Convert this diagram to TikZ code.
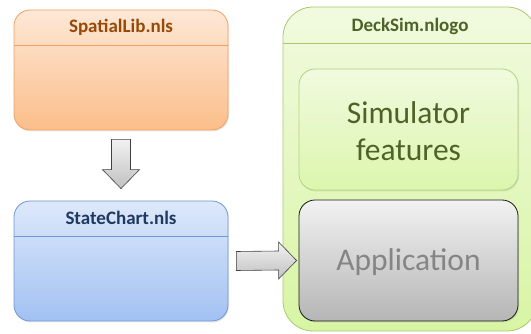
\documentclass[tikz,border=0pt]{standalone}
\usepackage{fontspec}
\setmainfont{Carlito}
\usetikzlibrary{shadows,calc}

\definecolor{orTop}{HTML}{FDE8D6}
\definecolor{orBot}{HTML}{FBBE8A}
\definecolor{orLine}{HTML}{F4A060}
\definecolor{orText}{HTML}{984807}
\definecolor{blTop}{HTML}{DDE8FA}
\definecolor{blBot}{HTML}{A2C1F2}
\definecolor{blLine}{HTML}{6E98D2}
\definecolor{blText}{HTML}{1F3A5F}
\definecolor{grTop}{HTML}{F1FADF}
\definecolor{grBot}{HTML}{D8F5A4}
\definecolor{grLine}{HTML}{A8CA6A}
\definecolor{grText}{HTML}{4F6228}
\definecolor{grInLine}{HTML}{B4D47E}
\definecolor{gyTop}{HTML}{F2F2F2}
\definecolor{gyBot}{HTML}{B5B5B5}
\definecolor{gyText}{HTML}{858585}

\begin{document}
\begin{tikzpicture}[x=1pt,y=-1pt,
  box/.style={rectangle, inner sep=0pt, line width=0.8pt,
    drop shadow={shadow xshift=1pt, shadow yshift=-1.5pt, opacity=0.18}},
  filebox/.style={box, minimum width=214pt, minimum height=120pt, rounded corners=16pt},
  innerbox/.style={box, minimum width=219pt, minimum height=121pt, rounded corners=16pt},
  title/.style={font=\bfseries\fontsize{19}{21}\selectfont, inner sep=0pt},
  big/.style={font=\fontsize{31.5}{37.5}\selectfont, inner sep=0pt, align=center},
  blockarrow/.style={draw=black!75, line width=0.6pt, top color=gyTop, bottom color=gyBot!85}
]
\path[use as bounding box] (0,0) rectangle (531,334);

% module files
\node[filebox, draw=orLine, top color=orTop, bottom color=orBot] (spatial) at (121,70) {};
\node[title, text=orText] (spatialtitle) at (121,27) {SpatialLib.nls};
\draw[orLine, line width=0.8pt] (spatial.west |- 0,45) -- (spatial.east |- 0,45);

\node[filebox, draw=blLine, top color=blTop, bottom color=blBot] (state) at (121,261) {};
\node[title, text=blText] (statetitle) at (121,218) {StateChart.nls};
\draw[blLine, line width=0.8pt] (state.west |- 0,236) -- (state.east |- 0,236);

% the model file: its right side runs past the margin, so only the
% part up to x = 531 is drawn
\def\deckoutline{(531,19) arc[start angle=-36.87, end angle=-90, radius=30]
  -- (313,7) arc[start angle=-90, end angle=-180, radius=30]
  -- (283,301) arc[start angle=180, end angle=90, radius=30]
  -- (507,331) arc[start angle=90, end angle=36.87, radius=30]}
\shade[top color=grTop, bottom color=grBot] \deckoutline -- cycle;
\draw[grLine, line width=0.8pt] \deckoutline;
\coordinate (deckW) at (283,43);
\coordinate (deckE) at (531,43);
\node[title, text=grText] (decktitle) at (410,26) {DeckSim.nlogo};
\draw[grLine, line width=0.8pt] (deckW) -- (deckE);

\node[innerbox, draw=grInLine, top color=grTop, bottom color=grBot!90,
      drop shadow={opacity=0}] (features) at (408.5,129.5) {};
\node[big, text=grText] (featurestext) at (408.5,131) {Simulator\\features};

\node[innerbox, draw=black!90, top color=gyTop, bottom color=gyBot] (app) at (408.5,260.5) {};
\node[big, text=gyText] (apptext) at (408.5,262) {Application};

% block arrows between the boxes
\draw[blockarrow]
  ($(spatial.south)+(-9.5,9)$) -- ($(spatial.south)+(9.5,9)$) --
  ($(state.north)+(9.5,-31)$) -- ($(state.north)+(18.5,-31)$) --
  ($(state.north)+(0,-12)$) --
  ($(state.north)+(-18.5,-31)$) -- ($(state.north)+(-9.5,-31)$) -- cycle;

\draw[blockarrow]
  ($(state.east)+(8,-9.5)$) -- ($(app.west)+(-20,-9.5)$) --
  ($(app.west)+(-20,-18.5)$) -- ($(app.west)+(-2,0)$) --
  ($(app.west)+(-20,18.5)$) -- ($(app.west)+(-20,9.5)$) --
  ($(state.east)+(8,9.5)$) -- cycle;
\end{tikzpicture}
\end{document}
